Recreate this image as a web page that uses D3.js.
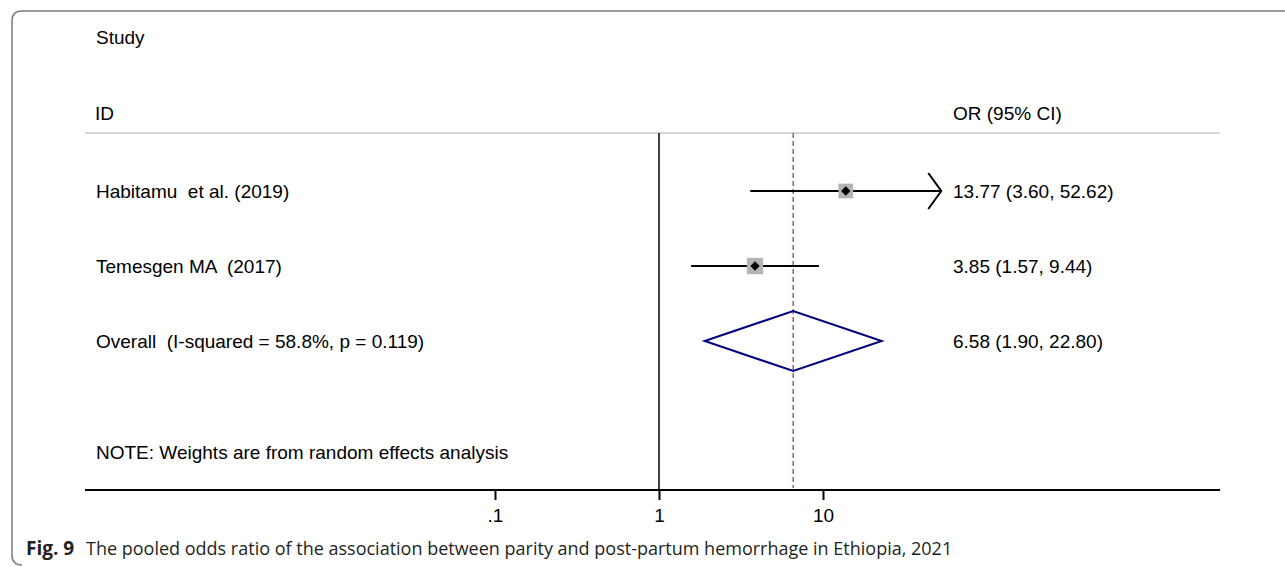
<!DOCTYPE html>
<html>
<head>
<meta charset="utf-8">
<script src="https://cdn.jsdelivr.net/npm/d3@7"></script>
<style>
  html, body { margin: 0; padding: 0; background: #fff; }
  svg { display: block; }
  text { white-space: pre; }
</style>
</head>
<body>
<svg id="chart" width="1285" height="567"></svg>
<script>
// Study-level odds ratios with 95% confidence intervals
const studies = ["Habitamu  et al. (2019)", "Temesgen MA  (2017)"];
const orValues = [13.77, 3.85];
const ciLower = [3.60, 1.57];
const ciUpper = [52.62, 9.44];
const boxWeights = [0.45, 0.55];

// Pooled random-effects estimate
const overallLabel = "Overall  (I-squared = 58.8%, p = 0.119)";
const overallOR = 6.58;
const overallLower = 1.90;
const overallUpper = 22.80;

// Axis ticks and upper display limit (CIs beyond it get an arrow)
const tickValues = [0.1, 1, 10];
const tickLabels = [".1", "1", "10"];
const axisMax = 52.62;

const svg = d3.select("#chart");
const labelFont = "'Liberation Sans', Arial, sans-serif";
const labelSize = 19;
const fmt = d3.format(".2f");

// Scales
const x = d3.scaleLog().domain([0.1, 10]).range([495, 823]);
const y = d3.scaleLinear().domain([0, 1]).range([191, 266]);
const left = 85, right = 1220, headerY = 133, axisY = 490;

// Panel frame (rounded on the left, open on the right)
svg.append("path")
  .attr("d", `M1285,11 H22 Q12,11 12,21 V555 Q12,565 22,565`)
  .attr("fill", "none")
  .attr("stroke", "#7a7a7a")
  .attr("stroke-width", 1.5);

// Column headers
const hdr = svg.append("g").attr("font-family", labelFont).attr("font-size", labelSize).attr("fill", "#000");
hdr.append("text").attr("x", 96).attr("y", 37).attr("dy", "0.35em").text("Study");
hdr.append("text").attr("x", 95).attr("y", 113).attr("dy", "0.35em").text("ID");
hdr.append("text").attr("x", 953).attr("y", 113).attr("dy", "0.35em").text("OR (95% CI)");

svg.append("line")
  .attr("x1", left).attr("x2", right)
  .attr("y1", headerY).attr("y2", headerY)
  .attr("stroke", "#c8c8c8").attr("stroke-width", 1.5);

// Line of no effect
svg.append("line")
  .attr("x1", x(1)).attr("x2", x(1))
  .attr("y1", headerY).attr("y2", axisY)
  .attr("stroke", "#000").attr("stroke-width", 1.5);

// Pooled estimate reference line
svg.append("line")
  .attr("x1", x(overallOR)).attr("x2", x(overallOR))
  .attr("y1", headerY).attr("y2", axisY - 2)
  .attr("stroke", "#a0404f").attr("stroke-width", 1.3)
  .attr("stroke-dasharray", "5,3");

// Study rows
const rows = svg.append("g");
studies.forEach((name, i) => {
  const yy = y(i);
  const hi = Math.min(ciUpper[i], axisMax);
  rows.append("line")
    .attr("x1", x(ciLower[i])).attr("x2", x(hi))
    .attr("y1", yy).attr("y2", yy)
    .attr("stroke", "#000").attr("stroke-width", 2);
  if (ciUpper[i] >= axisMax) {
    const tip = x(hi);
    rows.append("path")
      .attr("d", `M${tip - 13},${yy - 18} L${tip},${yy} L${tip - 13},${yy + 18}`)
      .attr("fill", "none").attr("stroke", "#000").attr("stroke-width", 2);
  }
  const side = 22 * Math.sqrt(boxWeights[i]);
  rows.append("rect")
    .attr("x", x(orValues[i]) - side / 2).attr("y", yy - side / 2)
    .attr("width", side).attr("height", side)
    .attr("fill", "#b4b4b4");
  rows.append("path")
    .attr("d", d3.symbol(d3.symbolDiamond2, 55)())
    .attr("transform", `translate(${x(orValues[i])},${yy})`)
    .attr("fill", "#000");
  rows.append("text")
    .attr("x", 96).attr("y", yy).attr("dy", "0.35em")
    .attr("font-family", labelFont).attr("font-size", labelSize)
    .text(name);
  rows.append("text")
    .attr("x", 953).attr("y", yy).attr("dy", "0.35em")
    .attr("font-family", labelFont).attr("font-size", labelSize)
    .text(`${fmt(orValues[i])} (${fmt(ciLower[i])}, ${fmt(ciUpper[i])})`);
});

// Overall diamond
const oy = y(2);
svg.append("path")
  .attr("d", `M${x(overallLower)},${oy} L${x(overallOR)},${oy - 30} L${x(overallUpper)},${oy} L${x(overallOR)},${oy + 30} Z`)
  .attr("fill", "none").attr("stroke", "#000080").attr("stroke-width", 2);
svg.append("text")
  .attr("x", 96).attr("y", oy).attr("dy", "0.35em")
  .attr("font-family", labelFont).attr("font-size", labelSize)
  .text(overallLabel);
svg.append("text")
  .attr("x", 953).attr("y", oy).attr("dy", "0.35em")
  .attr("font-family", labelFont).attr("font-size", labelSize)
  .text(`${fmt(overallOR)} (${fmt(overallLower)}, ${fmt(overallUpper)})`);

// Footnote
svg.append("text")
  .attr("x", 96).attr("y", 452).attr("dy", "0.35em")
  .attr("font-family", labelFont).attr("font-size", labelSize)
  .text("NOTE: Weights are from random effects analysis");

// Bottom axis
svg.append("line")
  .attr("x1", left).attr("x2", right)
  .attr("y1", axisY).attr("y2", axisY)
  .attr("stroke", "#000").attr("stroke-width", 2);
const axis = d3.axisBottom(x)
  .tickValues(tickValues)
  .tickFormat((d, i) => tickLabels[i])
  .tickSize(10)
  .tickPadding(9);
const ag = svg.append("g").attr("transform", `translate(0,${axisY})`).call(axis);
ag.select(".domain").remove();
ag.selectAll(".tick line").attr("stroke", "#000").attr("stroke-width", 2);
ag.selectAll(".tick text")
  .attr("font-family", labelFont).attr("font-size", labelSize).attr("fill", "#000");

// Caption
const cap = svg.append("text")
  .attr("y", 555)
  .attr("font-family", "'Open Sans', 'Noto Sans', sans-serif")
  .attr("font-size", 18)
  .attr("fill", "#231f20");
cap.append("tspan").attr("x", 26).attr("font-weight", "bold").attr("font-size", 19).text("Fig. 9");
cap.append("tspan").attr("x", 86)
  .text("The pooled odds ratio of the association between parity and post-partum hemorrhage in Ethiopia, 2021");
</script>
</body>
</html>
